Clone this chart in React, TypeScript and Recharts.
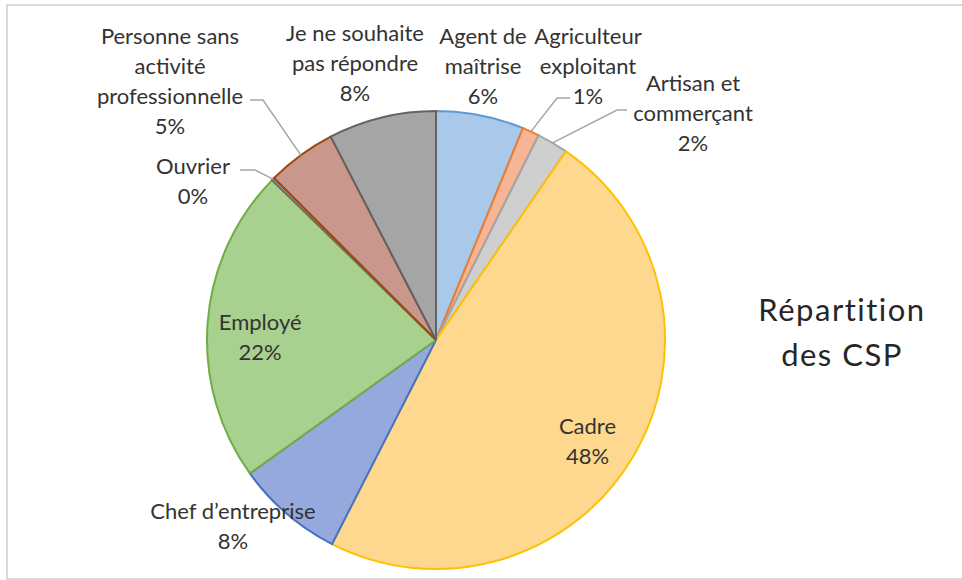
import React from 'react';
import { PieChart, Pie, Cell } from 'recharts';

const categories = [
  'Agent de maîtrise',
  'Agriculteur exploitant',
  'Artisan et commerçant',
  'Cadre',
  'Chef d’entreprise',
  'Employé',
  'Ouvrier',
  'Personne sans activité professionnelle',
  'Je ne souhaite pas répondre',
];
const values = [6.2, 1.2, 2.2, 47.9, 7.6, 22.2, 0.2, 4.9, 7.6];
const labelLines = [
  ['Agent de', 'maîtrise'],
  ['Agriculteur', 'exploitant'],
  ['Artisan et', 'commerçant'],
  ['Cadre'],
  ['Chef d’entreprise'],
  ['Employé'],
  ['Ouvrier'],
  ['Personne sans', 'activité', 'professionnelle'],
  ['Je ne souhaite', 'pas répondre'],
];
const fills = ['#a9c8ea', '#f5b596', '#cfcfcf', '#fed88f', '#95a9dc', '#a8d08e', '#8fa3c9', '#c9978b', '#a5a5a5'];
const strokes = ['#5b9bd5', '#ed7d31', '#a5a5a5', '#ffc000', '#4472c4', '#70ad47', '#7f6a4a', '#9e480e', '#636363'];

const data = categories.map((name, i) => ({ name, value: values[i] }));

// label layout (offsets from the pie centre); null => inside label
const labelLayout: Record<string, any> = {
  'Agent de maîtrise': { dx: 47, dy: -305 },
  'Agriculteur exploitant': { dx: 152, dy: -305, elbow: [121, -242], end: [134, -242] },
  'Artisan et commerçant': { dx: 257, dy: -258, elbow: [181, -230], end: [191, -230] },
  'Cadre': null,
  'Chef d’entreprise': { dx: -203, dy: 170 },
  'Employé': null,
  'Ouvrier': { dx: -243, dy: -175, elbow: [-181, -170], end: [-196, -170] },
  'Personne sans activité professionnelle': { dx: -266, dy: -305, elbow: [-173, -240], end: [-186, -240] },
  'Je ne souhaite pas répondre': { dx: -81, dy: -308 },
};

const RADIAN = Math.PI / 180;
const FONT = 'Lato, "Open Sans", sans-serif';
const LINE_H = 30;

const renderLabel = (props: any) => {
  const { cx, cy, midAngle, outerRadius, index, percent } = props;
  const name = categories[index];
  const lines = [...labelLines[index], `${Math.round(percent * 100)}%`];
  const layout = labelLayout[name];
  let x: number, y: number;
  let leader: React.ReactNode = null;
  if (!layout) {
    const r = outerRadius * 0.77;
    x = cx + r * Math.cos(-midAngle * RADIAN);
    y = cy + r * Math.sin(-midAngle * RADIAN) - ((lines.length - 1) * LINE_H) / 2 + 10;
  } else {
    x = cx + layout.dx;
    y = cy + layout.dy;
    if (layout.elbow) {
      const sx = cx + outerRadius * Math.cos(-midAngle * RADIAN);
      const sy = cy + outerRadius * Math.sin(-midAngle * RADIAN);
      leader = (
        <polyline
          points={`${sx},${sy} ${cx + layout.elbow[0]},${cy + layout.elbow[1]} ${cx + layout.end[0]},${cy + layout.end[1]}`}
          fill="none"
          stroke="#a6a6a6"
          strokeWidth={1.5}
        />
      );
    }
  }
  return (
    <g key={`lbl-${index}`}>
      {leader}
      <text x={x} y={y} textAnchor="middle" fill="#333333" fontFamily={FONT} fontSize={22}>
        {lines.map((l, i) => (
          <tspan key={i} x={x} y={y + i * LINE_H} dominantBaseline="central">
            {l}
          </tspan>
        ))}
      </text>
    </g>
  );
};

export default function App() {
  return (
    <div style={{ position: 'absolute', left: 0, top: 0, width: 962, height: 580, overflow: 'hidden', background: '#fff' }}>
      <div
        style={{
          position: 'absolute',
          left: 6,
          top: 4,
          width: 1000,
          height: 572,
          border: '2px solid #d9d9d9',
        }}
      />
      <div style={{ position: 'absolute', left: 0, top: 0 }}>
        <PieChart width={962} height={580} margin={{ top: 0, right: 0, bottom: 0, left: 0 }}>
          <Pie
            data={data}
            dataKey="value"
            nameKey="name"
            cx={436}
            cy={340}
            outerRadius={229}
            startAngle={90}
            endAngle={-270}
            isAnimationActive={false}
            label={renderLabel}
            labelLine={false}
          >
            {data.map((d, i) => (
              <Cell key={d.name} fill={fills[i]} stroke={strokes[i]} strokeWidth={2} />
            ))}
          </Pie>
        </PieChart>
      </div>
      <div
        style={{
          position: 'absolute',
          left: 722,
          top: 287,
          width: 240,
          textAlign: 'center',
          fontFamily: FONT,
          fontSize: 31,
          lineHeight: '45px',
          color: '#262626',
          letterSpacing: 1.5,
        }}
      >
        Répartition
        <br />
        des CSP
      </div>
    </div>
  );
}
